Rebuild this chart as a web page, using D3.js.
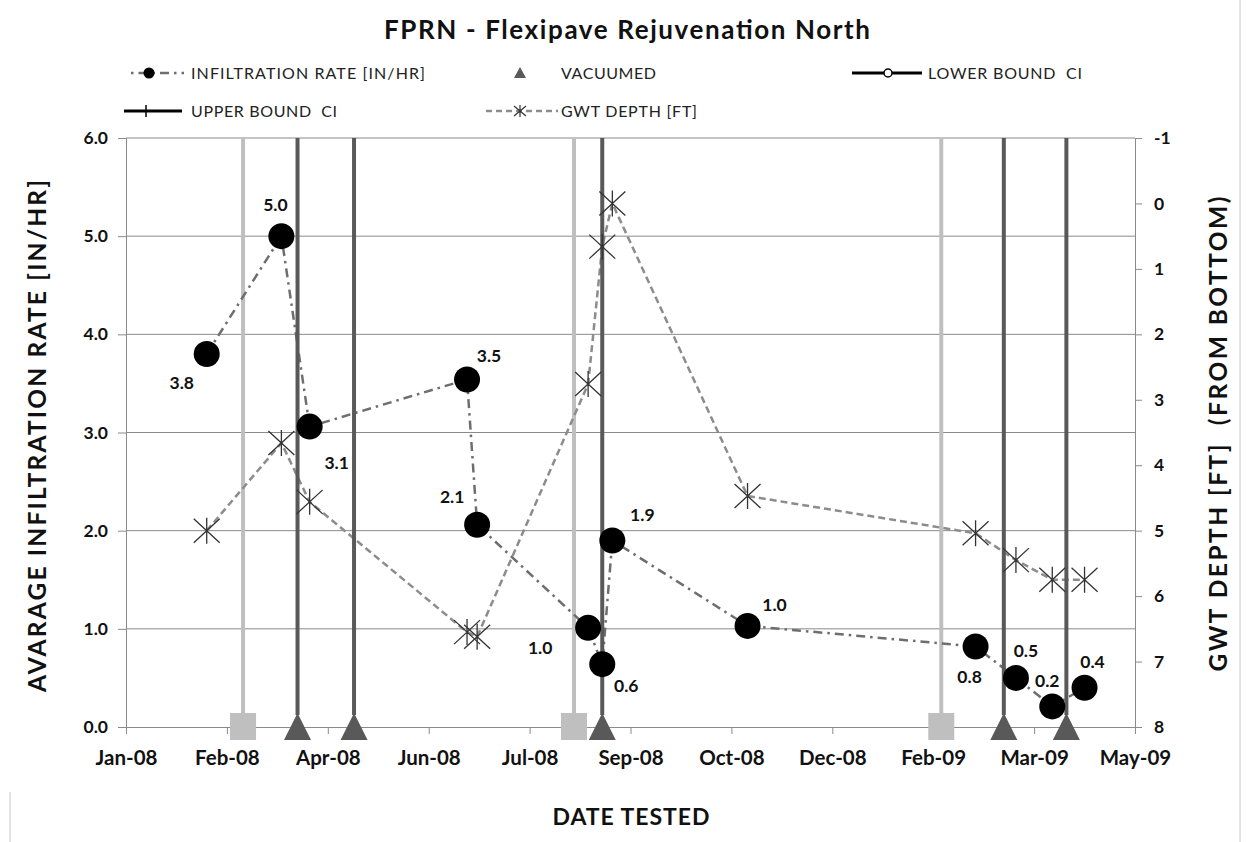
<!DOCTYPE html>
<html><head><meta charset="utf-8">
<script src="https://cdn.jsdelivr.net/npm/d3@7"></script>
<style>
html,body{margin:0;padding:0;background:#fff;}
svg{display:block;font-family:Lato,"Open Sans",sans-serif;}
</style></head>
<body><svg id="chart" width="1246" height="842"></svg>
<script>
// ---------- data ----------
const testDates = ["2008-02-13","2008-03-21","2008-04-04","2008-06-21","2008-06-26","2008-08-20","2008-08-27","2008-09-01","2008-11-07","2009-02-28","2009-03-20","2009-04-07","2009-04-23"];
const infiltrationRate = [3.80, 5.00, 3.06, 3.54, 2.06, 1.01, 0.64, 1.90, 1.03, 0.82, 0.50, 0.21, 0.40];
const gwtDepth = [5.00, 3.66, 4.56, 6.55, 6.62, 2.76, 0.66, 0.00, 4.47, 5.04, 5.45, 5.75, 5.75];
const vacuumedDates = ["2008-03-29","2008-04-26","2008-08-27","2009-03-14","2009-04-14"];
const otherEventDates = ["2008-03-02","2008-08-13","2009-02-11"];
const xAxisMin = "2008-01-04", xAxisMax = "2009-05-18", xTickStepDays = 50;
const leftTicks = [0,1,2,3,4,5,6];
const rightTicks = [-1,0,1,2,3,4,5,6,7,8];
const labelOffsets = [[-25,29],[-6,-31],[27,36],[22,-24],[-25,-28],[-48,20],[24,22],[30,-26],[27,-21],[-6,30],[10,-27],[-5,-26],[8,-26]];
const legendItems1 = ["INFILTRATION RATE [IN/HR]","VACUUMED","LOWER BOUND  CI"];
const legendItems2 = ["UPPER BOUND  CI","GWT DEPTH [FT]"];

// ---------- setup ----------
const parse = d3.utcParse("%Y-%m-%d");
const svg = d3.select("#chart");
const L = 126, R = 1135, T = 138, B = 727;
const x = d3.scaleUtc().domain([parse(xAxisMin), parse(xAxisMax)]).range([L, R]);
const yL = d3.scaleLinear().domain([0, 6]).range([B, T]);
const yR = d3.scaleLinear().domain([-1, 8]).range([T, B]);
const xTicks = d3.range(0, 11).map(k => d3.utcDay.offset(parse(xAxisMin), k * xTickStepDays));

const pts = testDates.map((d, i) => ({date: parse(d), v: infiltrationRate[i], g: gwtDepth[i], off: labelOffsets[i]}));

// chart border
svg.append("line").attr("x1",1240).attr("x2",1240).attr("y1",0).attr("y2",842).attr("stroke","#c8c8c8");
svg.append("line").attr("x1",10).attr("x2",10).attr("y1",792).attr("y2",842).attr("stroke","#c8c8c8");

// gridlines
svg.append("g").selectAll("line").data(leftTicks.filter(t => t > 0)).join("line")
  .attr("x1", L).attr("x2", R).attr("y1", d => yL(d)).attr("y2", d => yL(d))
  .attr("stroke", "#8a8a8a").attr("stroke-width", 1);

// axes
const gx = svg.append("g").attr("transform", `translate(0,${B})`)
  .call(d3.axisBottom(x).tickValues(xTicks).tickFormat(d3.utcFormat("%b-%y")).tickSize(7).tickSizeOuter(0).tickPadding(16));
const gl = svg.append("g").attr("transform", `translate(${L},0)`)
  .call(d3.axisLeft(yL).tickValues(leftTicks).tickFormat(d3.format(".1f")).tickSize(8).tickSizeOuter(0).tickPadding(10));
const gr = svg.append("g").attr("transform", `translate(${R},0)`)
  .call(d3.axisRight(yR).tickValues(rightTicks).tickFormat(d => String(d)).tickSize(7).tickSizeOuter(0).tickPadding(12));
[gx, gl, gr].forEach(g => {
  g.select(".domain").attr("stroke", "#8a8a8a");
  g.selectAll(".tick line").attr("stroke", "#8a8a8a");
  g.selectAll("text").attr("fill", "#111").attr("font-family", "Lato").attr("font-weight", "bold").attr("font-size", 17.5);
});
gx.selectAll("text").attr("font-size", 20.5);
gx.select(".domain").attr("d", `M${L-8},0.5H${R}`);

// vertical event lines
svg.append("g").selectAll("line").data(otherEventDates.map(parse)).join("line")
  .attr("x1", d => x(d)).attr("x2", d => x(d)).attr("y1", T).attr("y2", B - 12)
  .attr("stroke", "#bfbfbf").attr("stroke-width", 4);

// series lines
const lineInf = d3.line().x(d => x(d.date)).y(d => yL(d.v));
svg.append("path").datum(pts).attr("d", lineInf).attr("fill", "none")
  .attr("stroke", "#6e6e6e").attr("stroke-width", 2.5).attr("stroke-dasharray", "9,5,2.5,5");
const lineGwt = d3.line().x(d => x(d.date)).y(d => yR(d.g));
svg.append("path").datum(pts).attr("d", lineGwt).attr("fill", "none")
  .attr("stroke", "#8c8c8c").attr("stroke-width", 2.5).attr("stroke-dasharray", "7,4");

svg.append("g").selectAll("line").data(vacuumedDates.map(parse)).join("line")
  .attr("x1", d => x(d)).attr("x2", d => x(d)).attr("y1", T).attr("y2", B - 12)
  .attr("stroke", "#595959").attr("stroke-width", 4);

// bottom markers
svg.append("g").selectAll("rect").data(otherEventDates.map(parse)).join("rect")
  .attr("x", d => x(d) - 13).attr("y", B - 14).attr("width", 26).attr("height", 27).attr("fill", "#bfbfbf");
svg.append("g").selectAll("path").data(vacuumedDates.map(parse)).join("path")
  .attr("d", d => `M${x(d)},${B-14}L${x(d)+13.5},${B+13}L${x(d)-13.5},${B+13}Z`).attr("fill", "#595959");

// circles
svg.append("g").selectAll("circle").data(pts).join("circle")
  .attr("cx", d => x(d.date)).attr("cy", d => yL(d.v)).attr("r", 13).attr("fill", "#000");

// stars
const star = s => `M${-s},${-s+1}L${s},${s-1}M${-s},${s-1}L${s},${-s+1}M0,${-s}L0,${s}`;
svg.append("g").selectAll("path").data(pts).join("path")
  .attr("transform", d => `translate(${x(d.date)},${yR(d.g)})`)
  .attr("d", star(13)).attr("fill", "none").attr("stroke", "#333").attr("stroke-width", 1.3);

// data labels
svg.append("g").selectAll("text").data(pts).join("text")
  .attr("x", d => x(d.date) + d.off[0]).attr("y", d => yL(d.v) + d.off[1])
  .attr("dy", "0.35em").attr("text-anchor", "middle")
  .attr("font-size", 17.5).attr("font-weight", "bold").attr("fill", "#111")
  .text(d => d3.format(".1f")(d.v));

// titles
function fitText(sel, len) { sel.attr("textLength", len).attr("lengthAdjust", "spacing"); return sel; }
fitText(svg.append("text").attr("x", 627).attr("y", 30).attr("dy", "0.35em").attr("text-anchor", "middle")
  .attr("font-size", 26).attr("font-weight", "bold").attr("fill", "#111")
  .text("FPRN - Flexipave Rejuvenation North"), 486);
fitText(svg.append("text").attr("transform", "translate(37,436) rotate(-90)").attr("dy", "0.35em").attr("text-anchor", "middle")
  .attr("font-size", 24.5).attr("font-weight", "bold").attr("fill", "#111")
  .text("AVARAGE INFILTRATION RATE [IN/HR]"), 512);
fitText(svg.append("text").attr("transform", "translate(1218,434) rotate(-90)").attr("dy", "0.35em").attr("text-anchor", "middle")
  .attr("font-size", 24.5).attr("font-weight", "bold").attr("fill", "#111").attr("xml:space", "preserve")
  .text("GWT DEPTH [FT]  (FROM BOTTOM)"), 475);
fitText(svg.append("text").attr("x", 631).attr("y", 817).attr("dy", "0.35em").attr("text-anchor", "middle")
  .attr("font-size", 23).attr("font-weight", "bold").attr("fill", "#111")
  .text("DATE TESTED"), 157);

// legend
const lg = svg.append("g").attr("font-size", 16).attr("fill", "#222");
const r1 = 73, r2 = 111;
lg.append("line").attr("x1", 131).attr("x2", 184).attr("y1", r1).attr("y2", r1)
  .attr("stroke", "#6e6e6e").attr("stroke-width", 2.5).attr("stroke-dasharray", "2.5,5,9,5");
lg.append("circle").attr("cx", 149).attr("cy", r1).attr("r", 5.5).attr("fill", "#000");
fitText(lg.append("text").attr("x", 191).attr("y", r1).attr("dy", "0.35em").text(legendItems1[0]), 234);
lg.append("path").attr("d", `M520,${r1-6}L526,${r1+5}L514,${r1+5}Z`).attr("fill", "#595959");
fitText(lg.append("text").attr("x", 561).attr("y", r1).attr("dy", "0.35em").text(legendItems1[1]), 95);
lg.append("line").attr("x1", 852).attr("x2", 922).attr("y1", r1).attr("y2", r1).attr("stroke", "#000").attr("stroke-width", 3);
lg.append("circle").attr("cx", 888).attr("cy", r1).attr("r", 4).attr("fill", "#fff").attr("stroke", "#000").attr("stroke-width", 1.5);
fitText(lg.append("text").attr("x", 928).attr("y", r1).attr("dy", "0.35em").attr("xml:space", "preserve").text(legendItems1[2]), 154);
lg.append("line").attr("x1", 124).attr("x2", 182).attr("y1", r2).attr("y2", r2).attr("stroke", "#000").attr("stroke-width", 3);
lg.append("line").attr("x1", 146).attr("x2", 146).attr("y1", r2 - 6).attr("y2", r2 + 6).attr("stroke", "#000").attr("stroke-width", 1.5);
fitText(lg.append("text").attr("x", 191).attr("y", r2).attr("dy", "0.35em").attr("xml:space", "preserve").text(legendItems2[0]), 146);
lg.append("line").attr("x1", 486).attr("x2", 558).attr("y1", r2).attr("y2", r2)
  .attr("stroke", "#8c8c8c").attr("stroke-width", 2.5).attr("stroke-dasharray", "6,4");
lg.append("path").attr("transform", `translate(520,${r2})`).attr("d", star(6)).attr("fill", "none").attr("stroke", "#333").attr("stroke-width", 1.2);
fitText(lg.append("text").attr("x", 561).attr("y", r2).attr("dy", "0.35em").text(legendItems2[1]), 136);
</script></body></html>
